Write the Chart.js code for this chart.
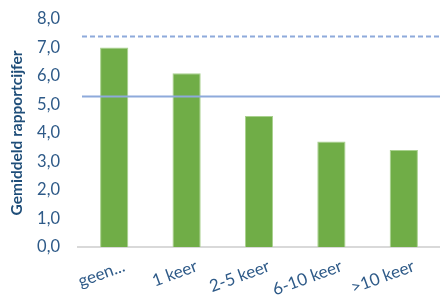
<!DOCTYPE html>
<html>
<head>
<meta charset="utf-8">
<script src="https://cdn.jsdelivr.net/npm/chart.js@4"></script>
<style>
  html, body { margin: 0; padding: 0; background: #fff; }
  #wrap { width: 440px; height: 302px; }
</style>
</head>
<body>
<div id="wrap"><canvas id="bar_chart_cijfer"></canvas></div>
<script>
var categories = ["geen...", "1 keer", "2-5 keer", "6-10 keer", ">10 keer"];
var gemiddelde = [7.0, 6.1, 4.6, 3.7, 3.4];
var refLines = [7.4, 5.3];
var refDashes = [[5, 3], []];
var yTicks = [0, 1, 2, 3, 4, 5, 6, 7, 8];

// horizontal reference lines across the plot area
var refLinePlugin = {
  id: 'refLines',
  afterDatasetsDraw: function(chart) {
    var ctx = chart.ctx;
    var area = chart.chartArea;
    var y = chart.scales.y;
    ctx.save();
    ctx.strokeStyle = "#8eaadb";
    ctx.lineWidth = 2;
    for (var i = 0; i < refLines.length; i++) {
      var py = Math.round(y.getPixelForValue(refLines[i])) + 0.5;
      ctx.setLineDash(refDashes[i]);
      ctx.beginPath();
      ctx.moveTo(area.left + 4, py);
      ctx.lineTo(area.right, py);
      ctx.stroke();
    }
    ctx.restore();
  }
};

var ctx = document.getElementById("bar_chart_cijfer");

var myChart = new Chart(ctx, {
  type: 'bar',
  plugins: [refLinePlugin],
  data: {
    labels: categories,
    datasets: [{
      data: gemiddelde,
      backgroundColor: "#70ad47",
      borderColor: "#a9d18e",
      borderWidth: 1,
      borderSkipped: 'bottom',
      barPercentage: 0.39,
      categoryPercentage: 1.0
    }]
  },
  options: {
    responsive: true,
    maintainAspectRatio: false,
    animation: false,
    layout: {
      padding: { top: 0, right: 0, left: 8, bottom: 0 }
    },
    plugins: {
      legend: { display: false },
      title: { display: false },
      tooltip: { enabled: false }
    },
    scales: {
      x: {
        afterFit: function(axis) {
          axis.height = 55;
          axis.paddingTop = 0;
        },
        grid: { display: false, drawTicks: false },
        border: { display: true, color: "#d9d9d9", width: 2 },
        ticks: {
          color: "#2e5a88",
          font: { family: "Lato", size: 17 },
          autoSkip: false,
          maxRotation: 20,
          minRotation: 20,
          labelOffset: 10,
          padding: 9
        }
      },
      y: {
        min: 0,
        max: 8,
        afterFit: function(axis) {
          axis.width = 70;
          axis.paddingTop = 19;
        },
        afterBuildTicks: function(axis) {
          axis.ticks = yTicks.map(function(v) { return { value: v }; });
        },
        grid: { display: false, drawTicks: false },
        border: { display: false },
        ticks: {
          color: "#2e5a88",
          font: { family: "Lato", size: 16.5 },
          padding: 18,
          callback: function(v) { return v.toFixed(1).replace(".", ","); }
        },
        title: {
          display: true,
          text: "Gemiddeld rapportcijfer",
          color: "#1f4e79",
          font: { family: "Lato", size: 15.5, weight: "bold" },
          padding: { top: 0, bottom: 6 }
        }
      }
    }
  }
});
</script>
</body>
</html>
